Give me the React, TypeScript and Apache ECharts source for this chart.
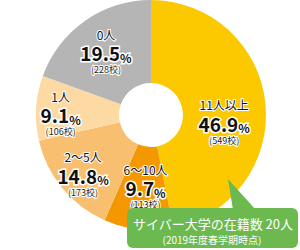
import React, { useEffect, useRef } from "react";
import * as echarts from "echarts";

const categories = ["11人以上", "6～10人", "2～5人", "1人", "0人"];
const percents = [46.9, 9.7, 14.8, 9.1, 19.5];
const schoolCounts = [549, 113, 173, 106, 228];
const sliceColors = ["#fcc800", "#f39800", "#f8bf70", "#fdd9a3", "#b5b5b5"];
const calloutTitle = "サイバー大学の在籍数 20人";
const calloutNote = "(2019年度春学期時点)";

const labelShift: [number, number][] = [
  [-3, 14],
  [3, -5],
  [-9, 10],
  [-14, 3],
  [-1, -1],
];

const FONT = '"Noto Sans CJK JP", "Noto Sans", sans-serif';

export default function App() {
  const ref = useRef<HTMLDivElement>(null);
  useEffect(() => {
    if (!ref.current) return;
    const chart = echarts.init(ref.current, undefined, { renderer: "svg" });
    chart.setOption({
      animation: false,
      backgroundColor: "#ffffff",
      series: [
        {
          type: "pie",
          center: [151, 115],
          radius: [32, 115],
          startAngle: 90,
          clockwise: true,
          silent: true,
          z: 1,
          itemStyle: { borderWidth: 0 },
          label: {
            show: true,
            position: "inside",
            fontFamily: FONT,
            color: "#111",
            formatter: (p: any) =>
              `{n|${p.name}}\n{p|${percents[p.dataIndex].toFixed(1)}}{s|%}\n{c|(${schoolCounts[p.dataIndex]}校)}`,
            rich: {
              n: {
                fontFamily: FONT,
                fontSize: 12,
                color: "#111",
                textBorderColor: "#fff",
                textBorderWidth: 2,
                lineHeight: 16,
                align: "center",
              },
              p: {
                fontFamily: FONT,
                fontSize: 19,
                fontWeight: "bold",
                color: "#111",
                textBorderColor: "#fff",
                textBorderWidth: 3,
                lineHeight: 21,
              },
              s: {
                fontFamily: FONT,
                fontSize: 12,
                fontWeight: "bold",
                color: "#111",
                textBorderColor: "#fff",
                textBorderWidth: 3,
                lineHeight: 21,
                verticalAlign: "bottom",
              },
              c: {
                fontFamily: FONT,
                fontSize: 9,
                color: "#222",
                textBorderColor: "#fff",
                textBorderWidth: 2,
                lineHeight: 13,
                align: "center",
              },
            },
          },
          labelLine: { show: false },
          labelLayout: (params: any) => ({
            dx: labelShift[params.dataIndex][0],
            dy: labelShift[params.dataIndex][1],
          }),
          data: categories.map((name, i) => ({
            name,
            value: percents[i],
            itemStyle: { color: sliceColors[i] },
          })),
        },
      ],
      graphic: {
        elements: [
          {
            type: "group",
            z: 100,
            zlevel: 1,
            children: [
              {
                type: "polygon",
                z: 100,
                shape: { points: [[228, 179], [233, 210], [256, 210]] },
                style: { fill: "#6cb94f" },
              },
              {
                type: "rect",
                z: 100,
                shape: { x: 127, y: 208, width: 171, height: 40, r: 6 },
                style: { fill: "#6cb94f" },
              },
              {
                type: "text",
                z: 101,
                x: 213,
                y: 223,
                style: {
                  text: calloutTitle,
                  fill: "#fff",
                  font: `13px ${FONT}`,
                  align: "center",
                  verticalAlign: "middle",
                },
              },
              {
                type: "text",
                z: 101,
                x: 212,
                y: 239,
                style: {
                  text: calloutNote,
                  fill: "#fff",
                  font: `10px ${FONT}`,
                  align: "center",
                  verticalAlign: "middle",
                },
              },
            ],
          },
        ],
      },
    });
    return () => chart.dispose();
  }, []);
  return (
    <div
      ref={ref}
      style={{ position: "fixed", left: 0, top: 0, width: 300, height: 250 }}
    />
  );
}
